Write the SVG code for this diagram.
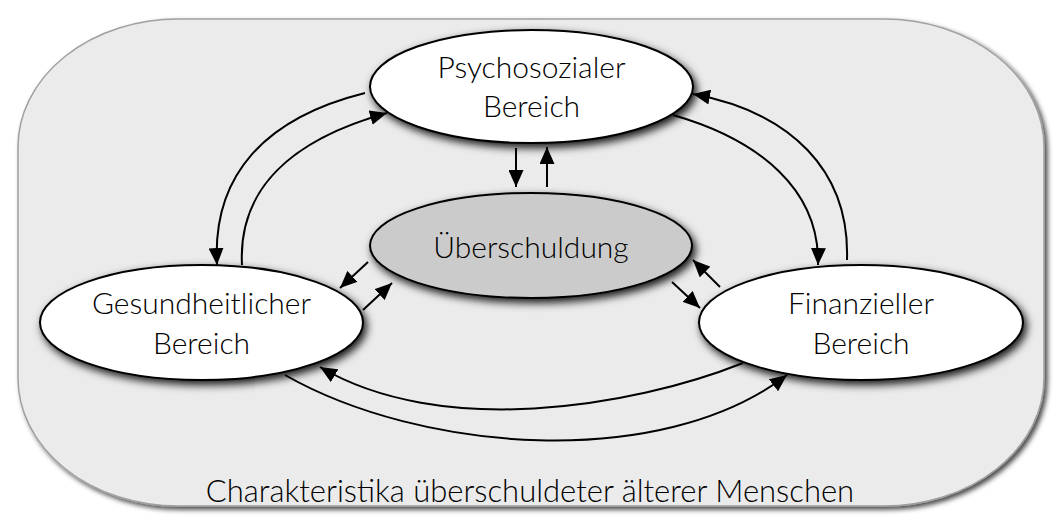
<svg xmlns="http://www.w3.org/2000/svg" width="1053" height="518" viewBox="0 0 1053 518">
  <defs>
    <filter id="shOuter" x="-5%" y="-5%" width="110%" height="110%">
      <feDropShadow dx="3" dy="3" stdDeviation="2.5" flood-color="#000" flood-opacity="0.7"/>
    </filter>
    <filter id="shNode" x="-20%" y="-30%" width="140%" height="160%">
      <feDropShadow dx="3" dy="4" stdDeviation="4" flood-color="#000" flood-opacity="0.9"/>
    </filter>
    <marker id="arr" viewBox="0 0 17 15" refX="17" refY="7.5" markerWidth="17" markerHeight="15" markerUnits="userSpaceOnUse" orient="auto">
      <path d="M0,0 L17,7.5 L0,15 Z" fill="#000"/>
    </marker>
    <style>
      .node { stroke: #000; stroke-width: 2; filter: url(#shNode); }
      .white { fill: #fff; }
      .grey { fill: #cbcbcb; }
      .lbl { font-family: Lato, "Liberation Sans", sans-serif; font-weight: 300; font-size: 30px; fill: #000; text-anchor: middle; }
      .cap { font-size: 31px; }
      .edge { fill: none; stroke: #000; stroke-width: 2; marker-end: url(#arr); }
    </style>
  </defs>

  <g id="frame">
    <rect x="18" y="19" width="1026" height="487" rx="160" ry="128" fill="#ebebeb" stroke="#a0a0a0" stroke-width="1.5" filter="url(#shOuter)"/>
    <text class="lbl cap" x="530" y="502">Charakteristika überschuldeter älterer Menschen</text>
  </g>

  <g id="connectors">
    <path class="edge" d="M365,93 C265,118 212,175 217,265"/>
    <path class="edge" d="M242,265 C238,190 290,140 387,113"/>
    <path class="edge" d="M673,115 C760,140 820,190 818,265"/>
    <path class="edge" d="M847,260 C850,170 790,112 693,94"/>
    <path class="edge" d="M285,375 C420,452 660,472 787,375"/>
    <path class="edge" d="M743,363 C630,408 440,438 320,367"/>
    <path class="edge" d="M516,148 L516,187"/>
    <path class="edge" d="M547,187 L547,147"/>
    <path class="edge" d="M368,262 L340,288"/>
    <path class="edge" d="M363,310 L392,283"/>
    <path class="edge" d="M672,282 L700,308"/>
    <path class="edge" d="M720,287 L693,260"/>
  </g>

  <g id="node-psycho">
    <ellipse class="node white" cx="531.5" cy="86.5" rx="161.5" ry="56.5"/>
    <text class="lbl" x="531.5" y="78">Psychosozialer</text>
    <text class="lbl" x="531.5" y="117">Bereich</text>
  </g>

  <g id="node-ueber">
    <ellipse class="node grey" cx="531" cy="245.5" rx="161" ry="52.5"/>
    <text class="lbl" x="531" y="258">Überschuldung</text>
  </g>

  <g id="node-gesund">
    <ellipse class="node white" cx="201.5" cy="322.5" rx="161.5" ry="57.5"/>
    <text class="lbl" x="201.5" y="314">Gesundheitlicher</text>
    <text class="lbl" x="201.5" y="354">Bereich</text>
  </g>

  <g id="node-finanz">
    <ellipse class="node white" cx="861" cy="322.5" rx="162" ry="57.5"/>
    <text class="lbl" x="861" y="314">Finanzieller</text>
    <text class="lbl" x="861" y="354">Bereich</text>
  </g>
</svg>
